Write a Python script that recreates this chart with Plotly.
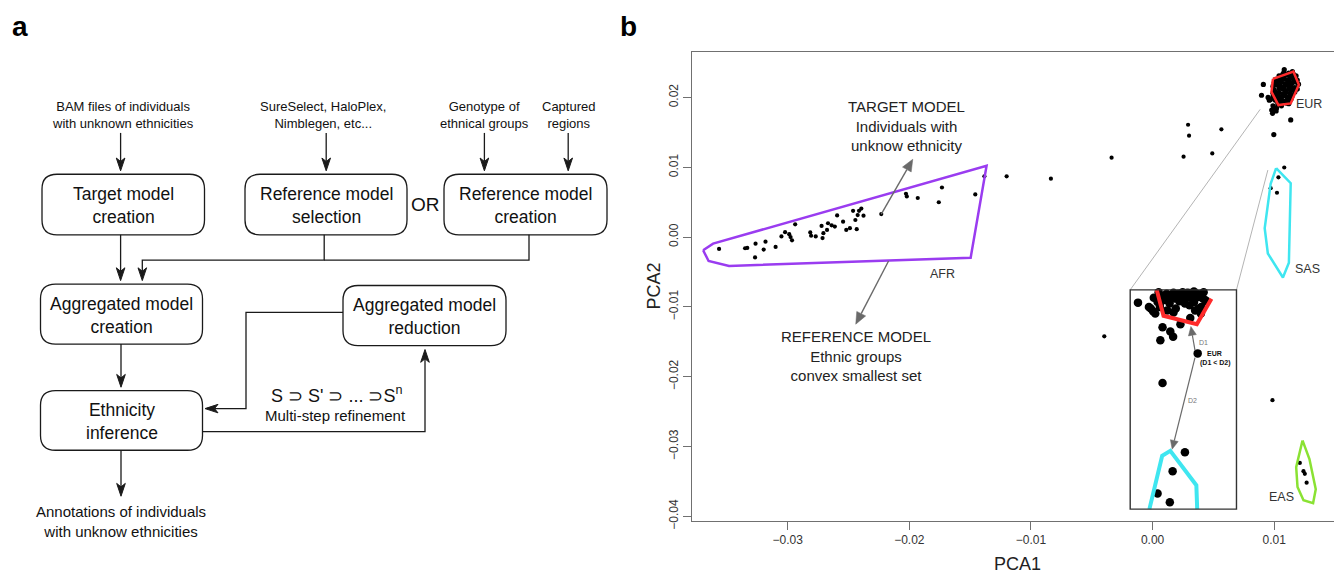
import plotly.graph_objects as go

W, H = 1334, 583
FONT = "Liberation Sans, Arial, sans-serif"

# ---------------- panel b : data ----------------
afr_x = [-0.03565, -0.03351, -0.03333, -0.03265, -0.03269, -0.03198, -0.03183, -0.03100, -0.03052, -0.03022,
         -0.02988, -0.02977, -0.02965, -0.02939, -0.02815, -0.02808, -0.02770, -0.02722, -0.02714, -0.02707,
         -0.02677, -0.02669, -0.02639, -0.02613, -0.02594, -0.02545, -0.02519, -0.02489, -0.02463, -0.02444,
         -0.02425, -0.02414, -0.02433, -0.02395, -0.02377, -0.02231, -0.02028, -0.02021, -0.01931, -0.01758,
         -0.01732, -0.01458, -0.01383]
afr_y = [-0.00169, -0.00160, -0.00155, -0.00094, -0.00292, -0.00179, -0.00066, -0.00141, 0.00009, 0.00071,
         0.00042, 0.00000, -0.00047, 0.00183, 0.00066, 0.00019, 0.00009, 0.00160, -0.00014, 0.00056,
         0.00103, 0.00198, 0.00169, 0.00151, 0.00310, 0.00221, 0.00103, 0.00127, 0.00376, 0.00245,
         0.00315, 0.00376, 0.00113, 0.00409, 0.00306, 0.00329, 0.00621, 0.00583, 0.00560, 0.00499,
         0.00710, 0.00611, 0.00870]

mid_x = [-0.01200, -0.00836, -0.00337, 0.00255, 0.00292, 0.00300, 0.00491, 0.00566, -0.00397, 0.00986]
mid_y = [0.00870, 0.00837, 0.01138, 0.01152, 0.01609, 0.01453, 0.01199, 0.01543, -0.01422, -0.02336]

eur_x = [0.0108, 0.0112, 0.0115,
         0.0104, 0.0107, 0.0110, 0.0113, 0.0116, 0.0118,
         0.0101, 0.0105, 0.0108, 0.0111, 0.0114, 0.0116, 0.0119,
         0.0100, 0.0103, 0.0106, 0.0109, 0.0112, 0.0115, 0.0118, 0.0120,
         0.0099, 0.0102, 0.0105, 0.0108, 0.0111, 0.0114, 0.0117, 0.0119,
         0.0100, 0.0104, 0.0107, 0.0109, 0.0112, 0.0115, 0.0117,
         0.0099, 0.0101, 0.0104, 0.0107, 0.0110, 0.0113, 0.0115,
         0.0099, 0.0101, 0.0103, 0.0106, 0.0109, 0.0112, 0.0114,
         0.0101, 0.0103, 0.0105, 0.0108, 0.0111, 0.0113,
         0.0103, 0.0105, 0.0110, 0.0112,
         0.0095, 0.0097, 0.0099, 0.0102, 0.0098, 0.0106,
         0.00911, 0.00896, 0.00960, 0.00986, 0.01016, 0.01001, 0.01136, 0.00997, 0.01083]
eur_y = [0.0236, 0.0235, 0.0237,
         0.0231, 0.0233, 0.0232, 0.0230, 0.0233, 0.0231,
         0.0226, 0.0228, 0.0227, 0.0225, 0.0228, 0.0226, 0.0225,
         0.0221, 0.0223, 0.0222, 0.0220, 0.0223, 0.0221, 0.0222, 0.0219,
         0.0216, 0.0218, 0.0217, 0.0215, 0.0218, 0.0216, 0.0214, 0.0212,
         0.0211, 0.0213, 0.0212, 0.0210, 0.0213, 0.0211, 0.0208,
         0.0206, 0.0208, 0.0207, 0.0205, 0.0208, 0.0206, 0.0203,
         0.0201, 0.0203, 0.0202, 0.0200, 0.0203, 0.0201, 0.0198,
         0.0196, 0.0198, 0.0197, 0.0195, 0.0198, 0.0196,
         0.0191, 0.0193, 0.0192, 0.0191,
         0.0200, 0.0197, 0.0188, 0.0185, 0.0182, 0.0188,
         0.02187, 0.02032, 0.01961, 0.01773, 0.01806, 0.01853, 0.01679, 0.01468, 0.02399]

sas_x = [0.01083, 0.01035, 0.01023, 0.00971]
sas_y = [0.00997, 0.00856, 0.00635, 0.00701]

eas_x = [0.01211, 0.01241, 0.01252, 0.01267]
eas_y = [-0.03236, -0.03353, -0.03391, -0.03518]

# convex hulls of the reference groups
afr_hull_x = [-0.03696, -0.03614, -0.01365, -0.01496, -0.03483, -0.03651, -0.03696]
afr_hull_y = [-0.00188, -0.00094, 0.01021, -0.00296, -0.00414, -0.00343, -0.00188]
eur_hull_x = [0.00990, 0.01158, 0.01203, 0.01136, 0.01035, 0.00978, 0.00990]
eur_hull_y = [0.02267, 0.02371, 0.02183, 0.01914, 0.01891, 0.02079, 0.02267]
sas_hull_x = [0.01016, 0.01136, 0.01121, 0.01072, 0.00948, 0.00922, 0.00971, 0.01016]
sas_hull_y = [0.00988, 0.00771, -0.00367, -0.00579, -0.00235, 0.00127, 0.00762, 0.00988]
eas_hull_x = [0.01233, 0.01290, 0.01342, 0.01320, 0.01241, 0.01192, 0.01181, 0.01233]
eas_hull_y = [-0.02913, -0.03180, -0.03611, -0.03813, -0.03771, -0.03579, -0.03297, -0.02913]

# zoomed inset (drawn in the same axes)
inset_box_x = [-0.00184, 0.00690]
inset_box_y = [-0.03897, -0.00756]
inset_x = [-0.00120, -0.00015, 0.00004, 0.00022, 0.00041, 0.00060, 0.00079, 0.00097, 0.00116, 0.00135,
           0.00154, 0.00172, 0.00191, 0.00210, 0.00229, 0.00247, 0.00266, 0.00285, 0.00304, 0.00322,
           0.00341, 0.00360, 0.00379, 0.00397, 0.00416, 0.00435, 0.00341, 0.00304, 0.00266, 0.00379,
           0.00397, 0.00191, 0.00172, 0.00229, 0.00082, 0.00146, 0.00169, 0.00064,
           0.0005, 0.0010, 0.0014, 0.0018, 0.0022, 0.0026, 0.0030, 0.0034, 0.0038, 0.0042, 0.0044,
           0.0040, 0.0035, 0.0012, 0.0006, 0.0001, -0.0003, 0.0031,
           0.00371, 0.00082, 0.00266, 0.00165, 0.00041, 0.00142]
inset_y = [-0.00939, -0.01023, -0.01061, -0.01094, -0.00930, -0.01000, -0.00883, -0.00836, -0.00812, -0.00906,
           -0.00836, -0.00798, -0.00836, -0.00812, -0.00845, -0.00789, -0.00827, -0.00798, -0.00859, -0.00812,
           -0.00845, -0.00812, -0.00859, -0.00827, -0.00883, -0.00906, -0.00930, -0.00977, -0.00953, -0.01023,
           -0.01094, -0.01023, -0.01080, -0.01248, -0.01291, -0.01352, -0.01427, -0.01478,
           -0.0079, -0.0090, -0.0095, -0.0088, -0.0092, -0.0089, -0.0080, -0.0078, -0.0082, -0.0079, -0.0092,
           -0.0100, -0.0105, -0.0105, -0.0095, -0.0087, -0.0100, -0.0116,
           -0.01666, -0.02092, -0.03082, -0.03354, -0.03672, -0.03799]
inset_eur_x = [0.00034, 0.00090, 0.00364, 0.00484]
inset_eur_y = [-0.00756, -0.01127, -0.01248, -0.00883]
inset_sas_x = [-0.00026, 0.00079, 0.00146, 0.00360, 0.00367]
inset_sas_y = [-0.03897, -0.03133, -0.03063, -0.03555, -0.03897]
zoom_line1 = ([-0.00184, 0.00885], [-0.00756, 0.01830])
zoom_line2 = ([0.00690, 0.00948], [-0.00756, 0.00960])

# arrows of panel b: (tail, tip)
big_arrows = [((-0.02231, 0.00329), (-0.01972, 0.01115)),
              ((-0.02171, -0.00343), (-0.02441, -0.01248))]
small_arrows = [((0.00349, -0.01624), (0.00315, -0.01281)),
                ((0.00349, -0.01727), (0.00161, -0.03039))]

x_ticks = [-0.03, -0.02, -0.01, 0.0, 0.01]
x_tick_text = ["\u22120.03", "\u22120.02", "\u22120.01", "0.00", "0.01"]
y_ticks = [-0.04, -0.03, -0.02, -0.01, 0.0, 0.01, 0.02]
y_tick_text = ["\u22120.04", "\u22120.03", "\u22120.02", "\u22120.01", "0.00", "0.01", "0.02"]

# ---------------- panel a : flowchart content ----------------
boxes = [  # x0, y0, x1, y1, label
    (42, 177, 204.5, 238.5, "Target model<br>creation"),
    (245, 177, 407, 238.5, "Reference model<br>selection"),
    (444, 177, 607, 238.5, "Reference model<br>creation"),
    (40.5, 288.5, 202.5, 349.5, "Aggregated model<br>creation"),
    (40.5, 396.7, 202.5, 457.3, "Ethnicity<br>inference"),
    (343, 290, 506, 351, "Aggregated model<br>reduction"),
]
inputs = [  # cx, cy, label
    (122.5, 117, "BAM files of individuals<br>with unknown ethnicities"),
    (323, 117, "SureSelect, HaloPlex,<br>Nimblegen, etc..."),
    (484, 117, "Genotype of<br>ethnical groups"),
    (568, 117, "Captured<br>regions"),
]
arrows_a = [  # polyline points, last point is the arrow tip
    [(120.6, 135), (120.6, 173.5)],
    [(326.2, 135), (326.2, 173.5)],
    [(484.4, 135), (484.4, 173.5)],
    [(568.2, 135), (568.2, 173.5)],
    [(120.6, 238.5), (120.6, 285)],
    [(324.2, 238.5), (324.2, 264.3), (142.3, 264.3), (142.3, 285)],
    [(121, 349.5), (121, 393.3)],
    [(121, 457.3), (121, 504)],
    [(343, 317.3), (246, 317.3), (246, 415), (205, 415)],
    [(202.5, 438.3), (425, 438.3), (425, 355)],
]
plain_lines_a = [
    [(529, 238.5), (529, 264.3), (324.2, 264.3)],
]

# axis geometry of panel b
XDOM = [691.7 / W, 1.0]
YDOM = [(H - 529) / H, (H - 52.7) / H]
XR = [-0.03790, 0.01492]
YR = [-0.04065, 0.02653]
PX_PER_X = (XDOM[1] - XDOM[0]) * W / (XR[1] - XR[0])
PX_PER_Y = (YDOM[1] - YDOM[0]) * H / (YR[1] - YR[0])

fig = go.Figure()

# ---- panel b traces ----
for zl in (zoom_line1, zoom_line2):
    fig.add_trace(go.Scatter(x=zl[0], y=zl[1], mode="lines",
                             line=dict(color="#b4b4b4", width=1), hoverinfo="skip"))
for px, py in [(afr_x, afr_y), (mid_x, mid_y), (sas_x, sas_y), (eas_x, eas_y)]:
    fig.add_trace(go.Scatter(x=px, y=py, mode="markers",
                             marker=dict(color="black", size=4.2, line=dict(width=0))))
fig.add_trace(go.Scatter(x=eur_x, y=eur_y, mode="markers",
                         marker=dict(color="black", size=5.2, line=dict(width=0))))
hulls = [(afr_hull_x, afr_hull_y, "#9a3cf0"), (eur_hull_x, eur_hull_y, "#ff2b2b"),
         (sas_hull_x, sas_hull_y, "#3fe6f0"), (eas_hull_x, eas_hull_y, "#8ae233")]
for hx, hy, c in hulls:
    fig.add_trace(go.Scatter(x=hx, y=hy, mode="lines", line=dict(color=c, width=2.5)))
# inset
fig.add_trace(go.Scatter(x=inset_x, y=inset_y, mode="markers",
                         marker=dict(color="black", size=8.5, line=dict(width=0))))
fig.add_trace(go.Scatter(x=inset_eur_x, y=inset_eur_y, mode="lines", line=dict(color="#ff2b2b", width=4)))
fig.add_trace(go.Scatter(x=inset_sas_x, y=inset_sas_y, mode="lines", line=dict(color="#3fe6f0", width=4)))
fig.add_shape(type="rect", xref="x", yref="y", x0=inset_box_x[0], x1=inset_box_x[1],
              y0=inset_box_y[0], y1=inset_box_y[1], line=dict(color="#333", width=1.4))


def arrow_b(tail, tip, head_len, head_w, width, color="#6a6a6a"):
    # direction computed in screen pixels, head drawn back in data units
    dxp = (tip[0] - tail[0]) * PX_PER_X
    dyp = (tip[1] - tail[1]) * PX_PER_Y
    d = (dxp ** 2 + dyp ** 2) ** 0.5
    ux, uy = dxp / d, dyp / d
    bx, by = -head_len * ux, -head_len * uy
    lx, ly = bx - head_w * uy, by + head_w * ux
    rx, ry = bx + head_w * uy, by - head_w * ux
    to_d = lambda ox, oy: (tip[0] + ox / PX_PER_X, tip[1] + oy / PX_PER_Y)
    base = to_d(bx, by)
    fig.add_trace(go.Scatter(x=[tail[0], base[0]], y=[tail[1], base[1]], mode="lines",
                             line=dict(color=color, width=width), hoverinfo="skip"))
    L, R = to_d(lx, ly), to_d(rx, ry)
    fig.add_shape(type="path", xref="x", yref="y",
                  path=f"M{tip[0]},{tip[1]} L{L[0]},{L[1]} L{R[0]},{R[1]} Z",
                  fillcolor=color, line=dict(color=color, width=0.5), layer="above")


for tail, tip in big_arrows:
    arrow_b(tail, tip, 12, 5, 1.4)
for tail, tip in small_arrows:
    arrow_b(tail, tip, 9, 4, 1.2)


def txt_b(x, y, s, size, color="#222", bold=False):
    fig.add_annotation(x=x, y=y, xref="x", yref="y", text=f"<b>{s}</b>" if bold else s,
                       showarrow=False, font=dict(family=FONT, size=size, color=color),
                       xanchor="center", yanchor="middle")


txt_b(-0.02021, 0.01588, "TARGET MODEL<br>Individuals with<br>unknow ethnicity", 15)
txt_b(-0.02440, -0.01703, "REFERENCE MODEL<br>Ethnic groups<br>convex smallest set", 15)
txt_b(-0.01728, -0.00532, "AFR", 12.5, "#333")
txt_b(0.01290, 0.01900, "EUR", 12.5, "#333")
txt_b(0.01271, -0.00452, "SAS", 12.5, "#333")
txt_b(0.01062, -0.03726, "EAS", 12.5, "#333")
txt_b(0.00416, -0.01516, "D1", 7, "#777")
txt_b(0.00330, -0.02346, "D2", 7, "#777")
txt_b(0.00512, -0.01670, "EUR", 7, "#111", bold=True)
txt_b(0.00514, -0.01797, "(D1 &lt; D2)", 7, "#111", bold=True)

# ---- panel a drawing ----
def rrect(x0, y0, x1, y1, r=15):
    return (f"M{x0+r},{y0} L{x1-r},{y0} Q{x1},{y0} {x1},{y0+r} L{x1},{y1-r} "
            f"Q{x1},{y1} {x1-r},{y1} L{x0+r},{y1} Q{x0},{y1} {x0},{y1-r} "
            f"L{x0},{y0+r} Q{x0},{y0} {x0+r},{y0} Z")


for x0, y0, x1, y1, lab in boxes:
    fig.add_shape(type="path", xref="x2", yref="y2", path=rrect(x0, y0, x1, y1),
                  line=dict(color="#1a1a1a", width=1.3))
    fig.add_annotation(x=(x0 + x1) / 2, y=(y0 + y1) / 2 + 1, xref="x2", yref="y2", text=lab,
                       showarrow=False, font=dict(family=FONT, size=17.5, color="#111"))
for cx, cy, lab in inputs:
    fig.add_annotation(x=cx, y=cy, xref="x2", yref="y2", text=lab, showarrow=False,
                       font=dict(family=FONT, size=13, color="#111"))


def polyline(pts):
    return "M" + " L".join(f"{x},{y}" for x, y in pts)


HEAD_L, HEAD_W, NOTCH = 13, 4.3, 3.5
for pts in arrows_a:
    (tx, ty), (hx, hy) = pts[-2], pts[-1]
    d = ((hx - tx) ** 2 + (hy - ty) ** 2) ** 0.5
    ux, uy = (hx - tx) / d, (hy - ty) / d
    px_, py_ = -uy, ux
    bx, by = hx - HEAD_L * ux, hy - HEAD_L * uy
    nx, ny = hx - (HEAD_L - NOTCH) * ux, hy - (HEAD_L - NOTCH) * uy
    line_pts = pts[:-1] + [(nx, ny)]
    fig.add_shape(type="path", xref="x2", yref="y2", path=polyline(line_pts),
                  line=dict(color="#1a1a1a", width=1.3))
    head = (f"M{hx},{hy} L{bx + HEAD_W * px_},{by + HEAD_W * py_} L{nx},{ny} "
            f"L{bx - HEAD_W * px_},{by - HEAD_W * py_} Z")
    fig.add_shape(type="path", xref="x2", yref="y2", path=head,
                  line=dict(color="#1a1a1a", width=1), fillcolor="#1a1a1a")
for pts in plain_lines_a:
    fig.add_shape(type="path", xref="x2", yref="y2", path=polyline(pts),
                  line=dict(color="#1a1a1a", width=1.3))

fig.add_annotation(x=425, y=208, xref="x2", yref="y2", text="OR", showarrow=False,
                   font=dict(family=FONT, size=19, color="#111"))
fig.add_annotation(x=336, y=401, xref="x2", yref="y2",
                   text="S \u2283 S' \u2283 ... \u2283S<sup>n</sup>", showarrow=False,
                   font=dict(family=FONT, size=18, color="#111"))
fig.add_annotation(x=335, y=422, xref="x2", yref="y2", text="Multi-step refinement",
                   showarrow=False, font=dict(family=FONT, size=15, color="#111"))
fig.add_annotation(x=120.5, y=529.5, xref="x2", yref="y2",
                   text="Annotations of individuals<br>with unknow ethnicities", showarrow=False,
                   font=dict(family=FONT, size=15, color="#111"))


# panel letters and axis titles (paper pixel positions)
def paper(px, py):
    return px / W, 1 - py / H


for lab, (px, py) in [("a", (19.5, 27)), ("b", (628, 27))]:
    xp, yp = paper(px, py)
    fig.add_annotation(x=xp, y=yp, xref="paper", yref="paper", text=f"<b>{lab}</b>",
                       xanchor="center", yanchor="middle",
                       showarrow=False, font=dict(family=FONT, size=28, color="#000"))
xp, yp = paper(1017, 573)
fig.add_annotation(x=xp, y=yp, xref="paper", yref="paper", text="PCA1", showarrow=False,
                   xanchor="center", yanchor="middle",
                   font=dict(family=FONT, size=18, color="#222"))
xp, yp = paper(654, 291)
fig.add_annotation(x=xp, y=yp, xref="paper", yref="paper", text="PCA2", showarrow=False,
                   xanchor="center", yanchor="middle",
                   textangle=-90, font=dict(family=FONT, size=18, color="#222"))

fig.update_layout(
    width=W, height=H, margin=dict(l=0, r=0, t=0, b=0),
    paper_bgcolor="white", plot_bgcolor="white", showlegend=False,
    xaxis=dict(domain=XDOM, range=XR, showgrid=False, zeroline=False,
               showline=True, mirror=True, linecolor="#707070", linewidth=1.2,
               ticks="outside", ticklen=8, tickcolor="#707070", tickwidth=1.2,
               tickvals=x_ticks, ticktext=x_tick_text,
               tickfont=dict(family=FONT, size=12, color="#333")),
    yaxis=dict(domain=YDOM, range=YR, showgrid=False,
               zeroline=False, showline=True, linecolor="#707070", linewidth=1.2,
               ticks="outside", ticklen=8, tickcolor="#707070", tickwidth=1.2,
               tickvals=y_ticks, ticktext=y_tick_text, tickangle=-90,
               tickfont=dict(family=FONT, size=12, color="#333")),
    xaxis2=dict(domain=[0, 620 / W], range=[0, 620], visible=False, anchor="y2"),
    yaxis2=dict(domain=[0, 1], range=[583, 0], visible=False, anchor="x2"),
)

fig.write_html("out.html", config={"displayModeBar": False},
               post_script="document.body.style.margin='0';document.body.style.overflow='hidden';")
